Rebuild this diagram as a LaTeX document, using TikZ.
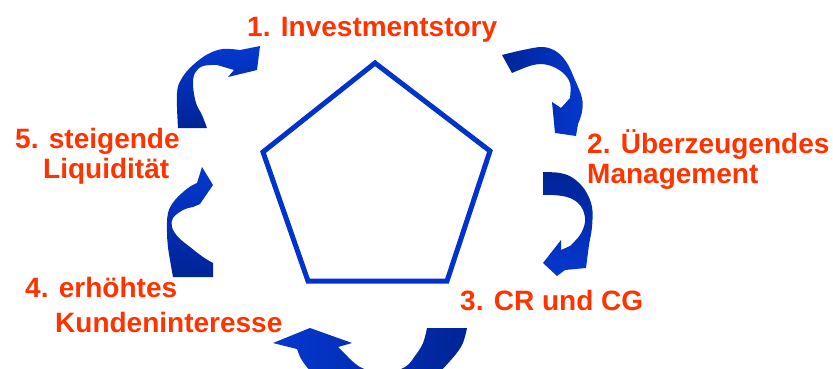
\documentclass[tikz,border=0pt]{standalone}
\usepackage{fontspec}
\setmainfont{Liberation Sans}
\definecolor{labred}{RGB}{255,51,0}
\definecolor{penta}{RGB}{0,51,204}
\definecolor{arrdark}{RGB}{0,36,150}
\definecolor{arrbright}{RGB}{5,56,208}
\begin{document}
\begin{tikzpicture}[x=1pt,y=1pt,
  lbl/.style={font=\bfseries\fontsize{28}{30}\selectfont, text=labred, anchor=base west, inner sep=0pt},
  cyclearrow/.style={draw=none},
  pentaline/.style={draw=penta, line width=5pt, line join=miter}]
\useasboundingbox (0,0) rectangle (833,-369);
\clip (0,0) rectangle (833,-369);

% central pentagon
\coordinate (p1) at (375,-63);
\coordinate (p2) at (490,-151);
\coordinate (p3) at (447,-281);
\coordinate (p4) at (308,-281);
\coordinate (p5) at (263,-152);
\draw[pentaline] (p1) -- (p2) -- (p3) -- (p4) -- (p5) -- cycle;

% curved arrow towards step 1
\shade[cyclearrow, top color=arrbright, bottom color=arrdark]
  plot[smooth, tension=0.6] coordinates {(178,-128) (177,-93) (182,-78) (193,-65) (208,-54) (223,-49) (240,-50)}
  -- (260,-46) -- (257,-70) -- (228,-77) -- (234,-70)
  -- plot[smooth, tension=0.6] coordinates {(217,-65) (203,-66) (195,-73) (193,-85) (196,-103) (202,-115) (207,-128)}
  -- cycle;

% curved arrow towards step 2
\shade[cyclearrow, left color=arrdark, right color=arrbright]
  plot[smooth, tension=0.6] coordinates {(502,-55) (523,-50) (543,-47) (557,-52) (567,-63) (575,-80) (582,-98) (582,-112) (578,-124)}
  -- (576,-136) -- (555,-133) -- (552,-102) -- (561,-108)
  -- plot[smooth, tension=0.6] coordinates {(570,-98) (570,-83) (562,-72) (548,-65) (533,-65) (512,-73)}
  -- cycle;

% curved arrow towards step 3
\shade[cyclearrow, top color=arrdark, bottom color=arrbright]
  plot[smooth, tension=0.6] coordinates {(543,-172) (560,-173) (573,-178) (585,-190) (592,-207) (592,-227) (589,-245) (586,-268)}
  -- (565,-270) -- (557,-276) -- (543,-263) -- (561,-240) -- (561,-250)
  -- plot[smooth, tension=0.6] coordinates {(570,-246) (580,-235) (585,-222) (583,-210) (577,-202) (567,-197) (553,-195) (543,-195)}
  -- cycle;

% curved arrow towards step 4 (runs below the lower edge)
\shade[cyclearrow, left color=arrbright, right color=arrdark]
  plot[smooth, tension=0.6] coordinates {(467,-328) (462,-345) (450,-361) (435,-374) (400,-386) (345,-386) (315,-375) (300,-357)}
  -- (297,-349) -- (273,-343) -- (310,-328) -- (352,-343) -- (338,-347)
  -- plot[smooth, tension=0.6] coordinates {(348,-357) (362,-368) (385,-373) (405,-367) (415,-356) (423,-343) (427,-328)}
  -- cycle;

% curved arrow towards step 5
\shade[cyclearrow, top color=arrbright, bottom color=arrdark]
  plot[smooth, tension=0.6] coordinates {(173,-277) (170,-260) (168,-247) (167,-232) (168,-213) (175,-200) (188,-188) (197,-183)}
  -- (202,-167) -- (213,-185) -- (200,-204)
  -- plot[smooth, tension=0.6] coordinates {(193,-207) (183,-210) (173,-218) (172,-227) (178,-237) (190,-247) (203,-257) (213,-263)}
  -- (213,-277) -- cycle;

% step labels
\node[lbl] (lab1) at (247,-37) {1. Investmentstory};
\node[lbl] (lab2a) at (587,-153) {2. Überzeugendes};
\node[lbl] (lab2b) at (587,-183) {Management};
\node[lbl] (lab3) at (460,-310) {3. CR und CG};
\node[lbl] (lab4a) at (25,-297) {4. erhöhtes};
\node[lbl] (lab4b) at (55,-332) {Kundeninteresse};
\node[lbl] (lab5a) at (15,-148) {5. steigende};
\node[lbl] (lab5b) at (43,-178) {Liquidität};
\end{tikzpicture}
\end{document}
